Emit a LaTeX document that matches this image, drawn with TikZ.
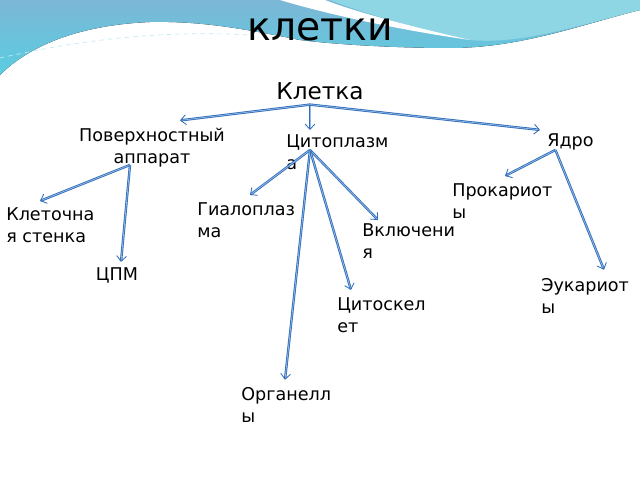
\documentclass[tikz,border=0pt]{standalone}
\usepackage{fontspec}
\setmainfont{DejaVu Sans}
\usetikzlibrary{arrows.meta,calc}
\definecolor{arrblue}{RGB}{48,108,185}
\definecolor{arrlight}{RGB}{150,188,230}
\definecolor{topblue}{RGB}{124,183,214}
\definecolor{topteal}{RGB}{143,214,228}
\definecolor{lowcyan}{RGB}{90,205,225}

\begin{document}
\begin{tikzpicture}[x=0.025cm,y=-0.025cm,
    lbl/.style={inner sep=0pt, font=\fontsize{12.5}{15.6}\selectfont},
    arr/.style={draw=arrblue, line width=0.6pt, double=arrlight, double distance=0.5pt, -{Straight Barb[length=3.8pt,width=7pt]}}]
    \useasboundingbox (0,0) rectangle (640,480);

    % background wave at the top
    \fill[top color=topblue, bottom color=lowcyan]
        (0,0) -- (640,0) -- (640,10) .. controls (580,25) and (520,48) .. (450,48)
        .. controls (400,48) and (340,45) .. (300,40) .. controls (240,28) and (200,21) .. (150,22)
        .. controls (80,25) and (30,45) .. (0,75) -- cycle;
    \fill[topteal]
        (330,0) -- (640,0) -- (640,10) .. controls (580,25) and (520,45) .. (470,40)
        .. controls (420,30) and (360,12) .. (330,0) -- cycle;
    \fill[white] (280,0) .. controls (330,15) and (400,30) .. (470,40)
        .. controls (400,24) and (350,10) .. (325,0) -- cycle;
    \draw[white!60!lowcyan, dashed, line width=0.5pt] (0,58) .. controls (80,40) and (160,30) .. (250,35);

    % title and labels
    \node[inner sep=0pt, anchor=base, font=\fontsize{28}{34}\selectfont] (title) at (320,40) {клетки};
    \node[inner sep=0pt, anchor=base, font=\fontsize{16.5}{20}\selectfont] (klet) at (320,99) {Клетка};

    \node[lbl, anchor=base, align=center] (pov) at (152,163) {Поверхностный\\аппарат};
    \node[lbl, anchor=base west, align=left] (cit) at (286,169) {Цитоплазм\\а};
    \node[lbl, anchor=base west] (yadro) at (547,146) {Ядро};
    \node[lbl, anchor=base west, align=left] (klch) at (6,242) {Клеточна\\я стенка};
    \node[lbl, anchor=base] (cpm) at (117,280) {ЦПМ};
    \node[lbl, anchor=base west, align=left] (gial) at (197,237) {Гиалоплаз\\ма};
    \node[lbl, anchor=base west, align=left] (vkl) at (362,258) {Включени\\я};
    \node[lbl, anchor=base west, align=left] (cytsk) at (337,332) {Цитоскел\\ет};
    \node[lbl, anchor=base west, align=left] (org) at (241,422) {Органелл\\ы};
    \node[lbl, anchor=base west, align=left] (prok) at (452,218) {Прокариот\\ы};
    \node[lbl, anchor=base west, align=left] (euk) at (541,313) {Эукариот\\ы};

    % branching points
    \coordinate (kh) at ($(klet.south)+(-10,5)$);
    \coordinate (ph) at ($(pov.south)+(-22,-2)$);
    \coordinate (ch) at ($(cit.north west)+(24,16)$);
    \coordinate (yh) at ($(yadro.south)+(-15,0)$);

    % arrows
    \draw[arr] (kh) -- ($(pov.north)+(28,-7)$);
    \draw[arr] (kh) -- ($(cit.north west)+(24,-4)$);
    \draw[arr] (kh) -- ($(yadro.north west)+(-7,-3)$);

    \draw[arr] (ph) -- ($(klch.north west)+(34,-6)$);
    \draw[arr] (ph) -- ($(cpm.north)+(4,-5)$);

    \draw[arr] (ch) -- ($(gial.north west)+(53,-7)$);
    \draw[arr] (ch) -- ($(vkl.north west)+(16,-3)$);
    \draw[arr] (ch) -- ($(cytsk.north west)+(14,-7)$);
    \draw[arr] (ch) -- ($(org.north west)+(44,-7)$);

    \draw[arr] (yh) -- ($(prok.north west)+(53,-7)$);
    \draw[arr] (yh) -- ($(euk.north west)+(63,-8)$);
\end{tikzpicture}
\end{document}
